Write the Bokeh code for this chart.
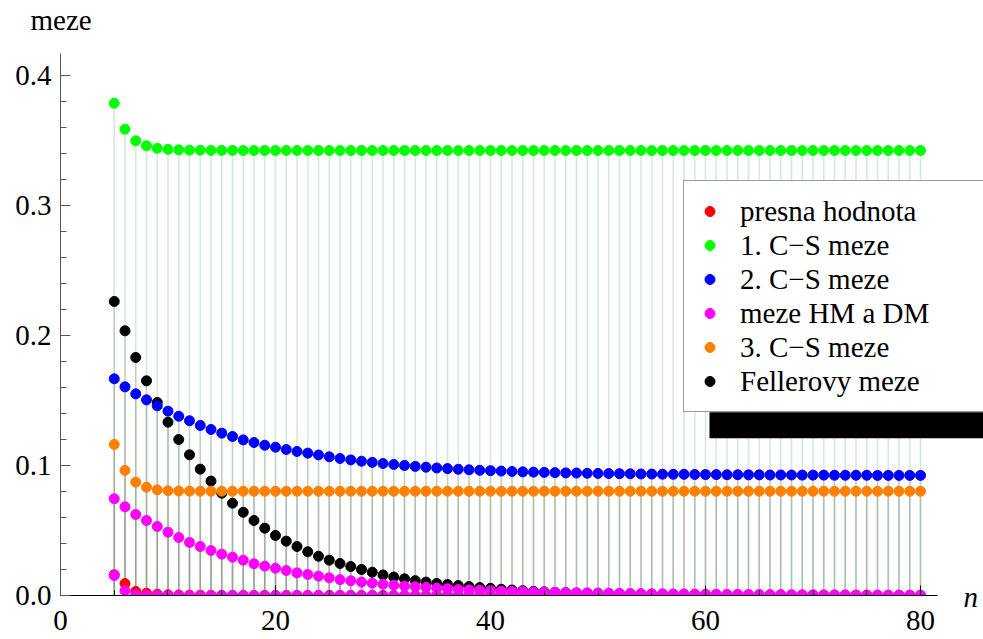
from bokeh.plotting import figure
from bokeh.models import (Range1d, FixedTicker, NumeralTickFormatter, Legend,
                          LegendItem, Label, BoxAnnotation, ColumnDataSource)
from bokeh.embed import file_html
from bokeh.resources import INLINE

# n = 5 .. 80
n = list(range(5, 81))

presna = [
    0.0160, 0.0092, 0.0031, 0.0018, 0.0010, 0.0006, 0.0004, 0.0003, 0.0002, 0.0001,
    0.0001, 0.0001, 0.0, 0.0, 0.0, 0.0, 0.0, 0.0, 0.0, 0.0,
    0.0, 0.0, 0.0, 0.0, 0.0, 0.0, 0.0, 0.0, 0.0, 0.0,
    0.0, 0.0, 0.0, 0.0, 0.0, 0.0, 0.0, 0.0, 0.0, 0.0,
    0.0, 0.0, 0.0, 0.0, 0.0, 0.0, 0.0, 0.0, 0.0, 0.0,
    0.0, 0.0, 0.0, 0.0, 0.0, 0.0, 0.0, 0.0, 0.0, 0.0,
    0.0, 0.0, 0.0, 0.0, 0.0, 0.0, 0.0, 0.0, 0.0, 0.0,
    0.0, 0.0, 0.0, 0.0, 0.0, 0.0,
]

cs1 = [
    0.3787, 0.3587, 0.3498, 0.3459, 0.3440, 0.3432, 0.3428, 0.3426, 0.3425, 0.3424,
    0.3424, 0.3424, 0.3423, 0.3423, 0.3423, 0.3423, 0.3423, 0.3423, 0.3423, 0.3423,
    0.3423, 0.3423, 0.3423, 0.3423, 0.3423, 0.3423, 0.3423, 0.3423, 0.3423, 0.3423,
    0.3423, 0.3423, 0.3423, 0.3423, 0.3423, 0.3423, 0.3423, 0.3423, 0.3423, 0.3423,
    0.3423, 0.3423, 0.3423, 0.3423, 0.3423, 0.3423, 0.3423, 0.3423, 0.3423, 0.3423,
    0.3423, 0.3423, 0.3423, 0.3423, 0.3423, 0.3423, 0.3423, 0.3423, 0.3423, 0.3423,
    0.3423, 0.3423, 0.3423, 0.3423, 0.3423, 0.3423, 0.3423, 0.3423, 0.3423, 0.3423,
    0.3423, 0.3423, 0.3423, 0.3423, 0.3423, 0.3423,
]

cs2 = [
    0.1667, 0.1605, 0.1551, 0.1505, 0.1459, 0.1418, 0.1379, 0.1344, 0.1308, 0.1277,
    0.1249, 0.1223, 0.1197, 0.1177, 0.1156, 0.1141, 0.1123, 0.1108, 0.1095, 0.1081,
    0.1067, 0.1054, 0.1043, 0.1033, 0.1024, 0.1015, 0.1008, 0.1000, 0.0993, 0.0987,
    0.0981, 0.0976, 0.0971, 0.0967, 0.0963, 0.0960, 0.0957, 0.0954, 0.0951, 0.0949,
    0.0947, 0.0945, 0.0943, 0.0942, 0.0940, 0.0939, 0.0938, 0.0937, 0.0936, 0.0935,
    0.0934, 0.0933, 0.0932, 0.0932, 0.0931, 0.0930, 0.0930, 0.0929, 0.0929, 0.0928,
    0.0928, 0.0927, 0.0927, 0.0927, 0.0926, 0.0926, 0.0926, 0.0925, 0.0925, 0.0925,
    0.0925, 0.0924, 0.0924, 0.0924, 0.0924, 0.0924,
]

hm_upper = [
    0.0744, 0.0682, 0.0623, 0.0577, 0.0531, 0.0487, 0.0446, 0.0408, 0.0377, 0.0346,
    0.0318, 0.0295, 0.0272, 0.0244, 0.0226, 0.0210, 0.0192, 0.0174, 0.0162, 0.0149,
    0.0136, 0.0122, 0.0113, 0.0103, 0.0095, 0.0087, 0.0079, 0.0072, 0.0067, 0.0062,
    0.0056, 0.0051, 0.0046, 0.0043, 0.0040, 0.0037, 0.0034, 0.0032, 0.0030, 0.0028,
    0.0026, 0.0024, 0.0023, 0.0021, 0.0020, 0.0019, 0.0018, 0.0017, 0.0016, 0.0015,
    0.0014, 0.0013, 0.0012, 0.0012, 0.0011, 0.0010, 0.0010, 0.0009, 0.0009, 0.0008,
    0.0008, 0.0007, 0.0007, 0.0006, 0.0006, 0.0006, 0.0005, 0.0005, 0.0005, 0.0004,
    0.0004, 0.0004, 0.0003, 0.0003, 0.0003, 0.0003,
]

dm_lower = [
    0.0154, 0.0036, 0.0005, 0.0002, 0.0001, 0.0001, 0.0, 0.0, 0.0, 0.0,
    0.0, 0.0, 0.0, 0.0, 0.0, 0.0, 0.0, 0.0, 0.0, 0.0,
    0.0, 0.0, 0.0, 0.0, 0.0, 0.0, 0.0, 0.0, 0.0, 0.0,
    0.0, 0.0, 0.0, 0.0, 0.0, 0.0, 0.0, 0.0, 0.0, 0.0,
    0.0, 0.0, 0.0, 0.0, 0.0, 0.0, 0.0, 0.0, 0.0, 0.0,
    0.0, 0.0, 0.0, 0.0, 0.0, 0.0, 0.0, 0.0, 0.0, 0.0,
    0.0, 0.0, 0.0, 0.0, 0.0, 0.0, 0.0, 0.0, 0.0, 0.0,
    0.0, 0.0, 0.0, 0.0, 0.0, 0.0,
]

cs3 = [
    0.1162, 0.0962, 0.0872, 0.0833, 0.0813, 0.0806, 0.0804, 0.0803, 0.0802, 0.0802,
    0.0802, 0.0802, 0.0802, 0.0802, 0.0802, 0.0802, 0.0802, 0.0802, 0.0802, 0.0802,
    0.0802, 0.0802, 0.0802, 0.0802, 0.0802, 0.0802, 0.0802, 0.0802, 0.0802, 0.0802,
    0.0802, 0.0802, 0.0802, 0.0802, 0.0802, 0.0802, 0.0802, 0.0802, 0.0802, 0.0802,
    0.0802, 0.0802, 0.0802, 0.0802, 0.0802, 0.0802, 0.0802, 0.0802, 0.0802, 0.0802,
    0.0802, 0.0802, 0.0802, 0.0802, 0.0802, 0.0802, 0.0802, 0.0802, 0.0802, 0.0802,
    0.0802, 0.0802, 0.0802, 0.0802, 0.0802, 0.0802, 0.0802, 0.0802, 0.0802, 0.0802,
    0.0802, 0.0802, 0.0802, 0.0802, 0.0802, 0.0802,
]

feller = [
    0.2262, 0.2036, 0.1831, 0.1651, 0.1485, 0.1333, 0.1200, 0.1082, 0.0972, 0.0880,
    0.0787, 0.0710, 0.0640, 0.0577, 0.0518, 0.0462, 0.0418, 0.0377, 0.0336, 0.0302,
    0.0272, 0.0246, 0.0223, 0.0200, 0.0179, 0.0158, 0.0142, 0.0128, 0.0114, 0.0103,
    0.0093, 0.0084, 0.0076, 0.0069, 0.0061, 0.0055, 0.0048, 0.0042, 0.0037, 0.0032,
    0.0028, 0.0024, 0.0021, 0.0018, 0.0016, 0.0014, 0.0012, 0.0010, 0.0009, 0.0008,
    0.0007, 0.0006, 0.0005, 0.0004, 0.0004, 0.0003, 0.0003, 0.0002, 0.0002, 0.0002,
    0.0001, 0.0001, 0.0001, 0.0001, 0.0001, 0.0001, 0.0, 0.0, 0.0, 0.0,
    0.0, 0.0, 0.0, 0.0, 0.0, 0.0,
]

x_ticks = [0, 20, 40, 60, 80]
y_ticks = [0.0, 0.1, 0.2, 0.3, 0.4]

FONT = "Liberation Serif"
FSIZE = "29px"

W, H = 983, 639
# the data area covers the whole canvas; the axes sit at x = 0 and y = 0
X0, X1 = -5.581, 85.86
Y0, Y1 = -0.03385, 0.4577

src = ColumnDataSource(dict(n=n, presna=presna, cs1=cs1, cs2=cs2, hm=hm_upper,
                            dm=dm_lower, cs3=cs3, feller=feller))

p = figure(width=W, height=H, output_backend="svg", toolbar_location=None,
           x_range=Range1d(X0, X1), y_range=Range1d(Y0, Y1),
           min_border_left=0, min_border_right=0, min_border_top=0,
           min_border_bottom=0)
p.outline_line_color = None
p.grid.visible = False
p.background_fill_color = "white"
p.border_fill_color = "white"

# drop lines from every point to the axis
stem_styles = [
    ("cs1", "#2e9e5a", 0.22),
    ("cs2", "#68705a", 0.19),
    ("cs3", "#68705a", 0.19),
    ("feller", "#68705a", 0.19),
    ("hm", "#68705a", 0.19),
    ("presna", "#68705a", 0.15),
]
for col, color, alpha in stem_styles:
    p.segment(x0="n", y0=0, x1="n", y1=col, source=src,
              line_color=color, line_alpha=alpha, line_width=1.6)

DOT = 10
r_fel = p.scatter("n", "feller", source=src, size=DOT, color="black")
r_red = p.scatter("n", "presna", source=src, size=DOT, color="#ff0000")
r_g = p.scatter("n", "cs1", source=src, size=DOT, color="#00ff00")
r_b = p.scatter("n", "cs2", source=src, size=DOT, color="#0000ff")
r_hm = p.scatter("n", "hm", source=src, size=DOT, color="#ff00ff")
r_dm = p.scatter("n", "dm", source=src, size=DOT, color="#ff00ff")
r_o = p.scatter("n", "cs3", source=src, size=DOT, color="#ff8000")

# points are cut off at the horizontal axis
p.quad(left=X0, right=X1, bottom=Y0, top=0, fill_color="white", line_color=None)

# axes
xa = p.xaxis[0]
xa.fixed_location = 0
xa.ticker = FixedTicker(ticks=x_ticks,
                        minor_ticks=[5, 10, 15, 25, 30, 35, 45, 50, 55, 65, 70, 75])
xa.bounds = (0, 81.58)
xa.axis_line_color = "black"
xa.major_tick_line_color = "black"
xa.minor_tick_line_color = "black"
xa.major_tick_in = 10
xa.major_tick_out = 0
xa.minor_tick_in = 5
xa.minor_tick_out = 0
xa.major_label_standoff = 16

ya = p.yaxis[0]
ya.fixed_location = 0
ya.ticker = FixedTicker(ticks=y_ticks,
                        minor_ticks=[0.02, 0.04, 0.06, 0.08, 0.12, 0.14, 0.16, 0.18,
                                     0.22, 0.24, 0.26, 0.28, 0.32, 0.34, 0.36, 0.38])
ya.formatter = NumeralTickFormatter(format="0.0")
ya.bounds = (0, 0.4169)
ya.axis_line_color = "#555555"
ya.major_tick_line_color = "#555555"
ya.minor_tick_line_color = "#555555"
ya.major_tick_in = 10
ya.major_tick_out = 0
ya.minor_tick_in = 6
ya.minor_tick_out = 0
ya.major_label_standoff = 9

for ax in (xa, ya):
    ax.major_label_text_font = FONT
    ax.major_label_text_font_size = FSIZE
    ax.major_label_text_color = "black"
    ax.axis_line_width = 1

# axis titles
p.add_layout(Label(x=30, y=H - 19, x_units="screen", y_units="screen", text="meze",
                   text_font=FONT, text_font_size=FSIZE, text_color="black",
                   text_baseline="alphabetic"))
p.add_layout(Label(x=963, y=H - 596, x_units="screen", y_units="screen", text="n",
                   text_font=FONT, text_font_size=FSIZE, text_font_style="italic",
                   text_color="black", text_baseline="alphabetic"))

# legend with a drop shadow underneath
p.add_layout(BoxAnnotation(left=60.37, right=90, top=0.1410, bottom=0.1210,
                           fill_color="black", fill_alpha=1.0, line_alpha=0))

legend = Legend(items=[
    LegendItem(label="presna hodnota", renderers=[r_red]),
    LegendItem(label="1. C\u2212S meze", renderers=[r_g]),
    LegendItem(label="2. C\u2212S meze", renderers=[r_b]),
    LegendItem(label="meze HM a DM", renderers=[r_hm]),
    LegendItem(label="3. C\u2212S meze", renderers=[r_o]),
    LegendItem(label="Fellerovy meze", renderers=[r_fel]),
], location=(683, H - 412))
legend.label_text_font = FONT
legend.label_text_font_size = FSIZE
legend.label_text_color = "black"
legend.glyph_width = 25
legend.glyph_height = 34
legend.label_height = 34
legend.spacing = 0
legend.padding = 13
legend.margin = 0
legend.label_standoff = 18
legend.label_width = 320
legend.border_line_color = "#333333"
legend.border_line_width = 1
legend.background_fill_color = "white"
legend.background_fill_alpha = 1.0
p.add_layout(legend)

open("out.html", "w").write(file_html(p, INLINE))
